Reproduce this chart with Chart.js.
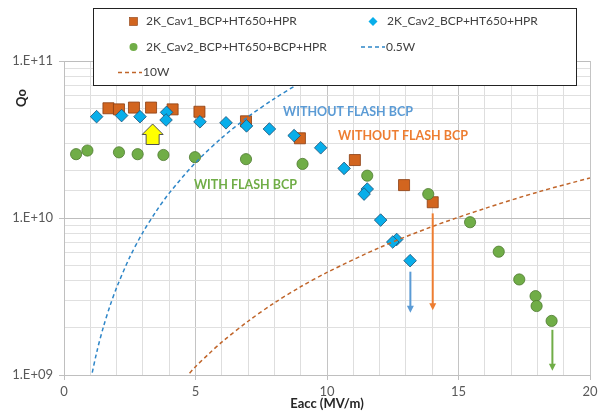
<!DOCTYPE html>
<html><head><meta charset="utf-8">
<script src="https://cdn.jsdelivr.net/npm/chart.js@4.4.0/dist/chart.umd.min.js"></script>
<style>html,body{margin:0;padding:0;background:#fff}#wrap{width:599px;height:414px;position:relative}</style>
</head><body><div id="wrap"><canvas id="c" width="599" height="414"></canvas></div>
<script>
// ---------- data ----------
const seriesLabels=['2K_Cav1_BCP+HT650+HPR','2K_Cav2_BCP+HT650+HPR','2K_Cav2_BCP+HT650+BCP+HPR','0.5W','10W'];
const cav1E=[1.69,2.09,2.66,3.31,4.13,5.15,6.92,8.97,11.06,12.93,14.02];
const cav1Q=[5.0e10,4.92e10,5.05e10,5.05e10,4.92e10,4.75e10,4.13e10,3.22e10,2.34e10,1.62e10,1.26e10];
const cav2E=[1.24,2.19,2.89,3.90,3.88,5.17,6.16,6.94,7.81,8.75,9.76,10.65,11.53,11.41,12.04,12.65,12.50,13.16];
const cav2Q=[4.42e10,4.49e10,4.42e10,4.71e10,4.21e10,4.10e10,4.04e10,3.86e10,3.69e10,3.35e10,2.80e10,2.07e10,1.53e10,1.42e10,9.7e9,7.3e9,7.03e9,5.35e9];
const cav2bE=[0.46,0.89,2.09,2.80,3.78,4.98,6.92,9.07,11.53,13.85,15.44,16.53,17.31,17.93,17.97,18.54];
const cav2bQ=[2.55e10,2.69e10,2.62e10,2.55e10,2.52e10,2.44e10,2.37e10,2.21e10,1.86e10,1.42e10,9.4e9,6.1e9,4.06e9,3.18e9,2.75e9,2.21e9];
const w05E=[1.02,1.25,1.5,1.75,2,2.5,3,3.5,4,5,6,7,8,9,10,11];
const w05Q=[9.4e8,1.41e9,2.03e9,2.76e9,3.6e9,5.63e9,8.1e9,1.10e10,1.44e10,2.25e10,3.24e10,4.41e10,5.76e10,7.29e10,9.0e10,1.09e11];
const w10E=[4.6,5,5.5,6,7,8,9,10,12,14,16,18,20];
const w10Q=[9.5e8,1.13e9,1.36e9,1.62e9,2.2e9,2.88e9,3.65e9,4.5e9,6.48e9,8.82e9,1.15e10,1.46e10,1.8e10];
const arrowE=[13.17,14.02,18.57];
const arrowFromQ=[4.55e9,1.07e10,1.94e9];
const arrowToQ=[2.53e9,2.62e9,1.08e9];
const noteTexts=['WITHOUT FLASH BCP','WITHOUT FLASH BCP','WITH FLASH BCP'];
const noteE=[8.33,10.42,4.94];
const noteQ=[4.75e10,3.33e10,1.62e10];
const bigArrowE=3.37, bigArrowQ=3.97e10;
const xTickLabels=['0','5','10','15','20'];
const yTickLabels=['1.E+09','1.E+10','1.E+11'];
const xTitle='Eacc (MV/m)', yTitle='Qo';

// ---------- styles ----------
const C_SQ='#D2651F', C_SQB='#8A3E12';
const C_DI='#08AEEA', C_DIB='#1E4F72';
const C_CI='#70AD47', C_CIB='#4E7A30';
const C_05='#2E86C8', C_10='#C0652A';
const noteColors=['#5B9BD5','#ED7D31','#70AD47'];
const arrowColors=['#5B9BD5','#ED7D31','#70AD47'];
const FONT='Lato, "Liberation Sans", sans-serif';

const pts=(xs,ys)=>xs.map((v,i)=>({x:v,y:ys[i]}));

const deco={
  id:'deco',
  afterDatasetsDraw(chart){
    const {ctx,scales:{x,y}}=chart;
    ctx.save();
    arrowE.forEach((e,i)=>{
      const px=x.getPixelForValue(e), y1=y.getPixelForValue(arrowFromQ[i]), y2=y.getPixelForValue(arrowToQ[i]);
      ctx.strokeStyle=arrowColors[i]; ctx.fillStyle=arrowColors[i]; ctx.lineWidth=2;
      ctx.beginPath(); ctx.moveTo(px,y1); ctx.lineTo(px,y2-5); ctx.stroke();
      ctx.beginPath(); ctx.moveTo(px-3.5,y2-6); ctx.lineTo(px+3.5,y2-6); ctx.lineTo(px,y2+1); ctx.closePath(); ctx.fill();
    });
    const tx=x.getPixelForValue(bigArrowE), ty=y.getPixelForValue(bigArrowQ);
    ctx.beginPath();
    ctx.moveTo(tx,ty); ctx.lineTo(tx+10.5,ty+10.5); ctx.lineTo(tx+6.5,ty+10.5); ctx.lineTo(tx+6.5,ty+20.5);
    ctx.lineTo(tx-6.5,ty+20.5); ctx.lineTo(tx-6.5,ty+10.5); ctx.lineTo(tx-10.5,ty+10.5); ctx.closePath();
    ctx.fillStyle='#FFFF00'; ctx.fill(); ctx.strokeStyle='#505050'; ctx.lineWidth=1; ctx.stroke();
    ctx.font='bold 12.5px '+FONT; ctx.textBaseline='middle'; ctx.textAlign='left';
    noteTexts.forEach((t,i)=>{ctx.fillStyle=noteColors[i]; ctx.fillText(t,x.getPixelForValue(noteE[i]),y.getPixelForValue(noteQ[i]));});
    ctx.restore();
  },
  afterDraw(chart){
    const ctx=chart.ctx, ds=chart.data.datasets;
    ctx.save();
    ctx.fillStyle='#fff'; ctx.fillRect(93,8,483,77);
    ctx.strokeStyle='#222'; ctx.lineWidth=1; ctx.strokeRect(93.5,8.5,483,77);
    ctx.font='12px '+FONT; ctx.textBaseline='middle'; ctx.textAlign='left';
    const rows=[21.5,47,72.5];
    ctx.fillStyle=ds[0].backgroundColor; ctx.fillRect(129.5,17.5,8,8); ctx.strokeStyle=ds[0].borderColor; ctx.lineWidth=0.6; ctx.strokeRect(129.5,17.5,8,8);
    ctx.fillStyle='#404040'; ctx.fillText(ds[0].label,146,rows[0]);
    ctx.beginPath(); ctx.moveTo(373,rows[0]-4.5); ctx.lineTo(377.5,rows[0]); ctx.lineTo(373,rows[0]+4.5); ctx.lineTo(368.5,rows[0]); ctx.closePath();
    ctx.fillStyle=ds[1].backgroundColor; ctx.fill();
    ctx.fillStyle='#404040'; ctx.fillText(ds[1].label,387,rows[0]);
    ctx.beginPath(); ctx.arc(133.5,rows[1],4,0,Math.PI*2); ctx.fillStyle=ds[2].backgroundColor; ctx.fill();
    ctx.fillStyle='#404040'; ctx.fillText(ds[2].label,146,rows[1]);
    ctx.strokeStyle=ds[3].borderColor; ctx.lineWidth=1.5; ctx.setLineDash([4,3]);
    ctx.beginPath(); ctx.moveTo(361,rows[1]); ctx.lineTo(385,rows[1]); ctx.stroke();
    ctx.strokeStyle=ds[4].borderColor;
    ctx.beginPath(); ctx.moveTo(118,rows[2]); ctx.lineTo(142,rows[2]); ctx.stroke();
    ctx.setLineDash([]);
    ctx.fillStyle='#404040'; ctx.fillText(ds[3].label,386,rows[1]); ctx.fillText(ds[4].label,143,rows[2]);
    ctx.fillStyle='#262626'; ctx.font='bold 13px '+FONT; ctx.textAlign='center';
    ctx.fillText(xTitle,(chart.chartArea.left+chart.chartArea.right)/2,404);
    ctx.translate(22,98); ctx.rotate(-Math.PI/2); ctx.font='bold 13px '+FONT; ctx.fillText(yTitle,0,0);
    ctx.restore();
  }
};

const isDecade=v=>Math.abs(Math.log10(v)-Math.round(Math.log10(v)))<1e-9;

new Chart(document.getElementById('c'),{
  type:'scatter',
  data:{datasets:[
    {label:seriesLabels[0],data:pts(cav1E,cav1Q),pointStyle:'rect',pointRadius:7.8,backgroundColor:C_SQ,borderColor:C_SQB,borderWidth:0.8,order:5},
    {label:seriesLabels[1],data:pts(cav2E,cav2Q),pointStyle:'rectRot',pointRadius:6.3,backgroundColor:C_DI,borderColor:C_DIB,borderWidth:0.8,order:4},
    {label:seriesLabels[2],data:pts(cav2bE,cav2bQ),pointStyle:'circle',pointRadius:5.6,backgroundColor:C_CI,borderColor:C_CIB,borderWidth:0.8,order:3},
    {label:seriesLabels[3],data:pts(w05E,w05Q),showLine:true,pointRadius:0,borderColor:C_05,borderWidth:1.5,borderDash:[4,3],tension:0.3,order:2},
    {label:seriesLabels[4],data:pts(w10E,w10Q),showLine:true,pointRadius:0,borderColor:C_10,borderWidth:1.5,borderDash:[4,3],tension:0.3,order:1}
  ]},
  options:{
    responsive:false,animation:false,events:[],
    layout:{padding:{left:0,top:61,right:9,bottom:0}},
    plugins:{legend:{display:false},tooltip:{enabled:false},title:{display:false}},
    scales:{
      x:{type:'linear',min:0,max:20,
        afterFit(s){s.height=39;s.paddingLeft=0;s.paddingRight=0;},
        ticks:{stepSize:1,autoSkip:false,maxRotation:0,padding:4,color:'#595959',font:{family:FONT,size:13},
          callback:(v)=>{const i=xTickLabels.indexOf(String(v));return i>=0?xTickLabels[i]:'';}},
        grid:{color:c=>(c.tick&&c.tick.value%5===0)?'#c4c4c4':'#dedede',lineWidth:1,tickLength:5,
          tickColor:c=>(c.tick&&c.tick.value%5===0)?'#bfbfbf':'rgba(0,0,0,0)'},
        border:{color:'#bfbfbf'}
      },
      y:{type:'logarithmic',min:1e9,max:1e11,
        afterFit(s){s.width=64;s.paddingTop=0;s.paddingBottom=0;},
        ticks:{autoSkip:false,padding:6,color:'#595959',font:{family:FONT,size:13},
          callback:(v)=>{if(!isDecade(v))return '';const e=Math.round(Math.log10(v));return yTickLabels[e-9]||'';}},
        grid:{color:c=>(c.tick&&isDecade(c.tick.value))?'#bdbdbd':'#e0e0e0',lineWidth:1,tickLength:5,
          tickColor:c=>(c.tick&&isDecade(c.tick.value))?'#bfbfbf':'rgba(0,0,0,0)'},
        border:{color:'#bfbfbf'}
      }
    }
  },
  plugins:[deco]
});
</script></body></html>
